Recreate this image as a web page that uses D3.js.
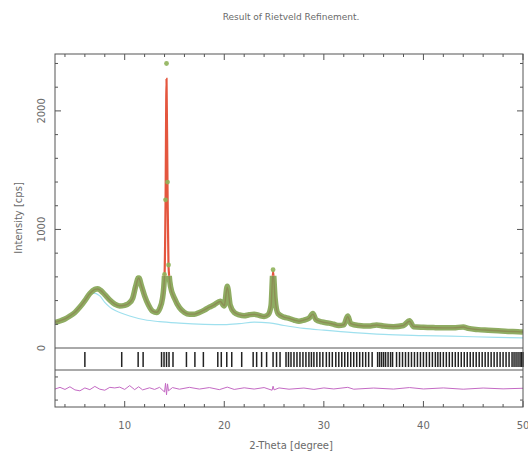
<!DOCTYPE html>
<html><head><meta charset="utf-8">
<script src="https://cdn.jsdelivr.net/npm/d3@7"></script>
<style>body{margin:0;background:#fff}svg{display:block}text{font-family:"DejaVu Sans",sans-serif;fill:#6a6a6a}</style>
</head><body><svg id="c" width="528" height="455"></svg>
<script>
const title = "Result of Rietveld Refinement.";
const xLabel = "2-Theta [degree]";
const yLabel = "Intensity [cps]";
const xTicks = [10, 20, 30, 40, 50];
const yTicks = [0, 1000, 2000];

const obsX = [3.0,3.5,4.0,4.5,5.0,5.5,6.0,6.5,7.0,7.3,7.6,8.0,8.5,9.0,9.5,10.0,10.4,10.8,11.1,11.4,11.7,12.0,12.4,12.8,13.2,13.5,13.8,14.0,14.1,14.2,14.3,14.4,14.6,15.0,15.5,16.0,16.5,17.0,17.5,18.0,18.5,19.0,19.6,20.0,20.3,20.6,21.0,21.5,22.0,22.5,23.0,23.5,24.0,24.4,24.7,24.9,25.1,25.4,26.0,26.5,27.0,27.5,28.0,28.5,28.9,29.2,29.8,30.5,31.0,31.5,32.0,32.4,32.7,33.5,34.5,35.3,36.0,37.0,38.0,38.6,39.0,40.0,41.0,42.0,43.0,44.0,44.5,45.5,46.5,47.5,48.5,49.5,50.0];
const obsY = [215,228,245,270,300,345,400,460,495,500,485,450,405,370,355,360,375,420,520,595,520,440,360,310,300,330,420,620,1250,2400,1400,700,520,420,340,300,285,285,300,320,345,365,395,355,520,360,300,280,272,280,285,275,265,280,360,660,420,290,260,250,235,225,235,250,290,240,220,210,200,190,195,270,205,190,185,195,185,180,190,230,180,175,172,170,170,178,165,155,150,145,140,138,135];
const calcY = [218,230,246,271,302,346,401,459,494,498,484,449,404,371,356,361,376,419,515,590,518,438,362,311,301,331,418,610,1200,2270,1350,690,515,418,341,301,286,286,300,321,344,364,392,356,512,358,301,281,273,280,284,276,266,281,355,650,415,291,261,250,236,226,236,251,286,240,221,210,200,191,196,265,205,190,185,194,185,181,190,226,181,175,172,170,170,177,165,155,150,145,140,138,135];

const bgX = [3,4,5,6,6.8,7.5,8.0,8.5,9.0,9.5,10.5,12,13.5,15.5,18,20,21.5,23,24.5,26,28,30,33,36,40,45,50];
const bgY = [215,245,298,390,465,440,385,345,318,300,270,238,222,210,200,197,205,218,212,190,165,150,130,115,105,95,85];

const braggX = [6.0,9.7,11.35,11.85,13.7,13.95,14.2,14.45,14.85,16.2,17.05,17.9,19.35,19.7,20.25,20.75,21.75,22.9,23.25,23.75,24.25,24.9,25.25,25.6,26.2,26.45,26.7,27.0,27.3,27.6,27.9,28.2,28.5,28.75,29.0,29.3,29.6,29.9,30.25,30.55,30.85,31.2,31.5,31.8,32.1,32.4,32.7,33.0,33.3,33.6,33.9,34.2,34.5,34.85,35.4,35.6,35.8,36.0,36.2,36.45,36.7,36.9,37.3,37.6,37.9,38.2,38.5,38.8,39.1,39.4,39.7,40.0,40.3,40.6,40.9,41.2,41.45,41.7,42.0,42.3,42.6,42.9,43.2,43.5,43.8,44.1,44.4,44.7,45.0,45.3,45.6,45.9,46.2,46.5,46.8,47.1,47.4,47.7,48.0,48.3,48.6,48.9,49.1,49.3,49.5,49.7,49.85,50.0];

const resX = [3,3.5,4,4.5,5,5.5,6,6.5,7,7.5,8,8.5,9,9.5,10,10.5,11,11.4,11.8,12.5,13,13.5,14.0,14.1,14.2,14.3,14.4,14.8,15.5,16.5,17.5,18.5,19.5,20.3,21,22,23,24,24.8,24.9,25.0,25.5,26.5,28,29,30,31,32.4,33,35,37,38.6,40,42,44,46,48,50];
const resY = [-5,10,-8,15,-12,-20,5,-10,18,-6,-15,10,5,12,-8,25,-10,15,-12,6,-8,10,-30,45,-55,40,-20,8,-6,10,-5,8,-10,12,-8,6,-5,8,-15,20,-12,5,-6,4,-8,5,-4,10,-6,4,-5,8,-4,5,-6,4,-3,2];

const svg = d3.select("#c");
const L = 55, R = 523, T = 54, B1 = 348, B2 = 370, B3 = 407;
const x = d3.scaleLinear().domain([3, 50]).range([L, R]);
const y = d3.scaleLinear().domain([0, 2480]).range([B1, T]);
const yr = d3.scaleLinear().domain([-160, 160]).range([B3, B2]);
const split = y(610);

const defs = svg.append("defs");
defs.append("clipPath").attr("id","clow").append("rect")
  .attr("x", L).attr("y", split).attr("width", R-L).attr("height", B1-split);
defs.append("clipPath").attr("id","ctop").append("rect")
  .attr("x", L).attr("y", T-12).attr("width", R-L).attr("height", split-T+12);
defs.append("clipPath").attr("id","cr").append("rect")
  .attr("x", L).attr("y", B2).attr("width", R-L).attr("height", B3-B2);

const idx = d3.range(obsX.length);
const lineObs = d3.line().x(i=>x(obsX[i])).y(i=>y(obsY[i])).curve(d3.curveMonotoneX);
const lineCalc = d3.line().x(i=>x(obsX[i])).y(i=>y(calcY[i])).curve(d3.curveMonotoneX);
const bgIdx = d3.range(bgX.length);
const lineBg = d3.line().x(i=>x(bgX[i])).y(i=>y(bgY[i])).curve(d3.curveMonotoneX);

// lower region: dense observed band
const gl = svg.append("g").attr("clip-path","url(#clow)");
gl.append("path").attr("d", lineBg(bgIdx)).attr("fill","none").attr("stroke","#9fe0ee").attr("stroke-width",1.2);
gl.append("path").attr("d", lineObs(idx)).attr("fill","none").attr("stroke","#8fac62").attr("stroke-width",5.5).attr("stroke-linejoin","round");
gl.append("path").attr("d", lineCalc(idx)).attr("fill","none").attr("stroke","#8a6a48").attr("stroke-width",1.4).attr("opacity",0.45);

// upper region: sparse observed markers on the calculated line
const gt = svg.append("g").attr("clip-path","url(#ctop)");
gt.append("path").attr("d", lineCalc(idx)).attr("fill","none").attr("stroke","#e4563e").attr("stroke-width",2.2);
gt.selectAll("circle").data(idx.filter(i=>obsY[i] > 560)).join("circle")
  .attr("cx", i=>x(obsX[i])).attr("cy", i=>y(obsY[i])).attr("r", 2.4)
  .attr("fill","#8fb25a").attr("opacity",0.9);

// Bragg positions
svg.append("g").selectAll("line").data(braggX).join("line")
  .attr("x1", d=>x(d)).attr("x2", d=>x(d)).attr("y1", 352).attr("y2", 367)
  .attr("stroke","#222").attr("stroke-width",1.5);

// residual
const gr = svg.append("g").attr("clip-path","url(#cr)");
const rIdx = d3.range(resX.length);
gr.append("path").attr("d", d3.line().x(i=>x(resX[i])).y(i=>yr(resY[i]))(rIdx))
  .attr("fill","none").attr("stroke","#c46ac4").attr("stroke-width",1);

// frame
const fr = svg.append("g").attr("stroke","#555").attr("stroke-width",1).attr("fill","none");
fr.append("rect").attr("x",L).attr("y",T).attr("width",R-L).attr("height",B3-T);
fr.append("line").attr("x1",L).attr("x2",R).attr("y1",B1).attr("y2",B1);
fr.append("line").attr("x1",L).attr("x2",R).attr("y1",B2).attr("y2",B2);

// x ticks (inward, bottom & top)
const xt = d3.range(4, 51, 2);
const gx = svg.append("g").attr("stroke","#555");
xt.forEach(v=>{
  const len = (v % 10 === 0) ? 6 : 3;
  gx.append("line").attr("x1",x(v)).attr("x2",x(v)).attr("y1",B3).attr("y2",B3-len);
  gx.append("line").attr("x1",x(v)).attr("x2",x(v)).attr("y1",T).attr("y2",T+len);
});
// y ticks (inward, left & right)
const yt = d3.range(200, 2401, 200);
yt.forEach(v=>{
  const len = (v % 1000 === 0) ? 6 : 3;
  gx.append("line").attr("x1",L).attr("x2",L+len).attr("y1",y(v)).attr("y2",y(v));
  gx.append("line").attr("x1",R).attr("x2",R-len).attr("y1",y(v)).attr("y2",y(v));
});
[-100, 100].forEach(v=>{
  gx.append("line").attr("x1",L).attr("x2",L+3).attr("y1",yr(v)).attr("y2",yr(v));
  gx.append("line").attr("x1",R).attr("x2",R-3).attr("y1",yr(v)).attr("y2",yr(v));
});

// labels
svg.selectAll("text.xt").data(xTicks).join("text").attr("class","xt")
  .attr("x", d=>x(d)).attr("y", 429).attr("text-anchor","middle").attr("font-size",10).text(d=>d);
svg.selectAll("text.yt").data(yTicks).join("text").attr("class","yt")
  .attr("transform", d=>`translate(45,${y(d)}) rotate(-90)`).attr("text-anchor","middle").attr("font-size",10).text(d=>d);
svg.append("text").attr("x", 291).attr("y", 20).attr("text-anchor","middle").attr("font-size",9).text(title);
svg.append("text").attr("x", 291).attr("y", 449).attr("text-anchor","middle").attr("font-size",10).text(xLabel);
svg.append("text").attr("transform","translate(22,218) rotate(-90)").attr("text-anchor","middle").attr("font-size",10).text(yLabel);
</script></body></html>
